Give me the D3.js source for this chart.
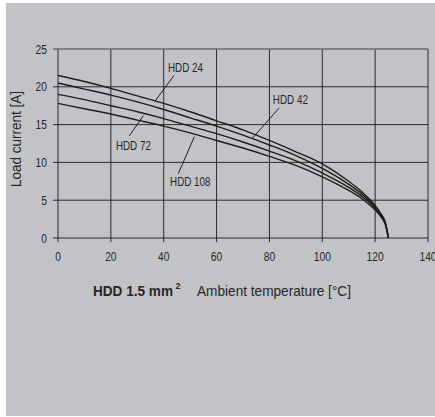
<!DOCTYPE html>
<html>
<head>
<meta charset="utf-8">
<script src="https://cdn.jsdelivr.net/npm/d3@7"></script>
<style>
    body { margin: 0; background: #fff; }
    svg text { font-family: "Liberation Sans", Arial, sans-serif; fill: #262626; }
</style>
</head>
<body>
<div id="chart"></div>
<script>
// values
var temps = [0, 10, 20, 30, 40, 50, 60, 70, 80, 90, 100, 110, 115, 120, 122, 124, 125];
var hdd24  = [21.5, 20.7, 19.8, 18.8, 17.8, 16.7, 15.5, 14.3, 12.9, 11.4, 9.8, 7.5, 6.1, 4.3, 3.3, 1.9, 0];
var hdd42  = [20.5, 19.7, 18.9, 18.0, 17.0, 15.9, 14.8, 13.6, 12.3, 10.9, 9.2, 7.1, 5.8, 4.1, 3.2, 1.8, 0];
var hdd72  = [19.0, 18.3, 17.5, 16.7, 15.8, 14.8, 13.8, 12.7, 11.5, 10.2, 8.6, 6.7, 5.5, 3.9, 3.0, 1.7, 0];
var hdd108 = [17.8, 17.1, 16.4, 15.6, 14.8, 13.9, 12.9, 11.9, 10.8, 9.6, 8.1, 6.3, 5.2, 3.7, 2.9, 1.6, 0];

var xTicks = [0, 20, 40, 60, 80, 100, 120, 140];
var yTicks = [0, 5, 10, 15, 20, 25];

// label text, label anchor [x, y] and leader line [x1, y1, x2, y2] in data units
var labelNames = ["HDD 24", "HDD 42", "HDD 72", "HDD 108"];
var labelPos = [[41.6, 21.9], [81.3, 17.7], [21.9, 11.6], [42.4, 6.9]];
var leaders = [[43.9, 21.5, 36.7, 18.1], [83.7, 17.2, 73.3, 13.1], [27.0, 13.5, 32.3, 16.2], [45.5, 8.5, 51.6, 13.4]];

var width = 435, height = 417;
var margin = {top: 49, right: 7, bottom: 179, left: 58};
var squeeze = 0.82;   // the original uses a condensed face

var svg = d3.select("#chart").append("svg")
    .attr("width", width)
    .attr("height", height);

// grey panel
svg.append("rect")
    .attr("x", 6).attr("y", 3)
    .attr("width", width - 6).attr("height", 413)
    .attr("fill", "#c2c3c6");

var x = d3.scaleLinear().domain([0, 140]).range([margin.left, width - margin.right]);
var y = d3.scaleLinear().domain([0, 25]).range([height - margin.bottom, margin.top]);

var g = svg.append("g");

// grid, with little tick stubs outside the frame
g.selectAll(".vgrid")
    .data(xTicks)
    .enter().append("line")
    .attr("x1", function (d) { return x(d); })
    .attr("x2", function (d) { return x(d); })
    .attr("y1", y(25))
    .attr("y2", y(0) + 4)
    .attr("stroke", "#2b2b2b")
    .attr("stroke-width", 1);

g.selectAll(".hgrid")
    .data(yTicks)
    .enter().append("line")
    .attr("x1", x(0) - 5)
    .attr("x2", x(140))
    .attr("y1", function (d) { return y(d); })
    .attr("y2", function (d) { return y(d); })
    .attr("stroke", function (d) { return d == 25 ? "#6a6a6a" : "#2b2b2b"; })
    .attr("stroke-width", function (d) { return d == 25 ? 1.5 : 1; });

// tick labels
g.selectAll(".xlab")
    .data(xTicks)
    .enter().append("text")
    .attr("transform", function (d) { return "translate(" + x(d) + "," + (y(0) + 23) + ") scale(" + squeeze + ",1)"; })
    .attr("text-anchor", "middle")
    .style("font-size", "12.5px")
    .text(function (d) { return d; });

g.selectAll(".ylab")
    .data(yTicks)
    .enter().append("text")
    .attr("transform", function (d) { return "translate(" + (x(0) - 11) + "," + (y(d) + 4.5) + ") scale(" + squeeze + ",1)"; })
    .attr("text-anchor", "end")
    .style("font-size", "12.5px")
    .text(function (d) { return d; });

// curves
var line = d3.line()
    .x(function (d) { return x(d[0]); })
    .y(function (d) { return y(d[1]); })
    .curve(d3.curveMonotoneX);

[hdd24, hdd42, hdd72, hdd108].forEach(function (series) {
    g.append("path")
        .datum(temps.map(function (t, i) { return [t, series[i]]; }))
        .attr("d", line)
        .attr("fill", "none")
        .attr("stroke", "#1e1e1e")
        .attr("stroke-width", 1.4);
});

// curve labels
g.selectAll(".leader")
    .data(leaders)
    .enter().append("line")
    .attr("x1", function (d) { return x(d[0]); })
    .attr("y1", function (d) { return y(d[1]); })
    .attr("x2", function (d) { return x(d[2]); })
    .attr("y2", function (d) { return y(d[3]); })
    .attr("stroke", "#1e1e1e")
    .attr("stroke-width", 1);

g.selectAll(".clab")
    .data(labelNames)
    .enter().append("text")
    .attr("transform", function (d, i) { return "translate(" + x(labelPos[i][0]) + "," + y(labelPos[i][1]) + ") scale(" + squeeze + ",1)"; })
    .style("font-size", "12px")
    .text(function (d) { return d; });

// axis titles
svg.append("text")
    .attr("transform", "translate(21,139) rotate(-90)")
    .attr("text-anchor", "middle")
    .attr("textLength", 96)
    .attr("lengthAdjust", "spacingAndGlyphs")
    .style("font-size", "14.5px")
    .text("Load current [A]");

svg.append("text")
    .attr("x", 93)
    .attr("y", 296)
    .attr("textLength", 80)
    .attr("lengthAdjust", "spacingAndGlyphs")
    .style("font-size", "14.5px")
    .style("font-weight", "bold")
    .text("HDD 1.5 mm");

svg.append("text")
    .attr("x", 175.5)
    .attr("y", 289)
    .style("font-size", "9px")
    .style("font-weight", "bold")
    .text("2");

svg.append("text")
    .attr("x", 197)
    .attr("y", 296)
    .attr("textLength", 154)
    .attr("lengthAdjust", "spacingAndGlyphs")
    .style("font-size", "14.5px")
    .text("Ambient temperature [°C]");
</script>
</body>
</html>
